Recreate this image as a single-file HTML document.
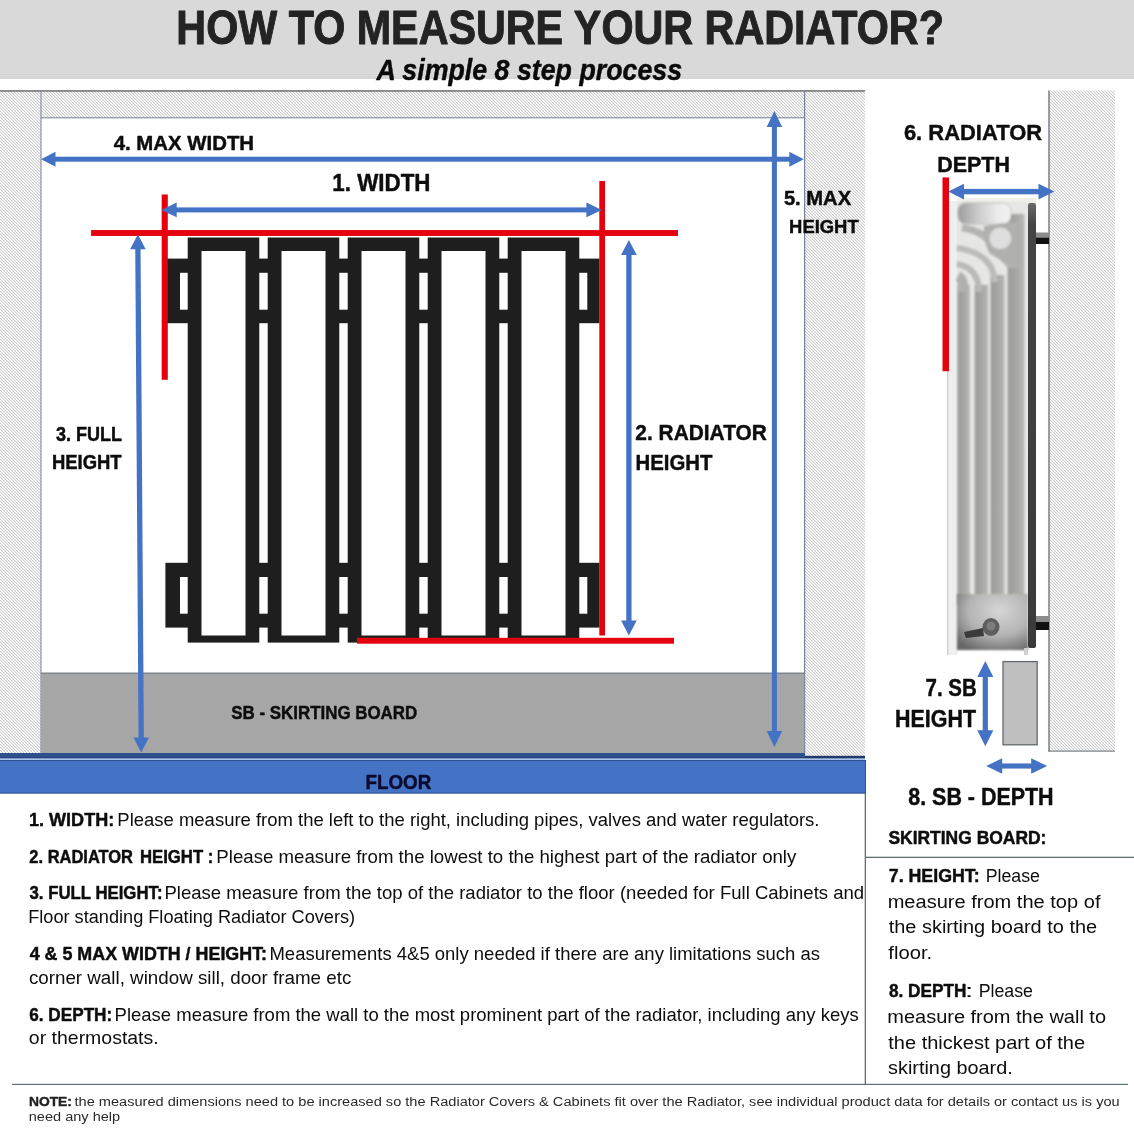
<!DOCTYPE html>
<html><head><meta charset="utf-8"><title>How to measure your radiator</title>
<style>
html,body{margin:0;padding:0;background:#fff;overflow:hidden;}
svg{display:block;will-change:transform;}
text{font-family:"Liberation Sans", sans-serif;}
</style></head>
<body>
<svg width="1134" height="1134" viewBox="0 0 1134 1134">
<defs>
<pattern id="hatch" x="0" y="0" width="3" height="3" patternUnits="userSpaceOnUse">
  <rect width="3" height="3" fill="#fbfbfb"/>
  <rect x="0" y="0" width="1" height="1" fill="#cecece"/><rect x="1" y="1" width="1" height="1" fill="#cecece"/><rect x="2" y="2" width="1" height="1" fill="#cecece"/>
  <rect x="1" y="0" width="1" height="1" fill="#ececec"/><rect x="2" y="1" width="1" height="1" fill="#ececec"/><rect x="0" y="2" width="1" height="1" fill="#ececec"/>
</pattern>
<linearGradient id="fin" x1="0" x2="1" y1="0" y2="0">
  <stop offset="0" stop-color="#9a9a98"/>
  <stop offset="0.5" stop-color="#a6a6a2"/>
  <stop offset="1" stop-color="#b8b8b4"/>
</linearGradient>
<linearGradient id="cap" x1="0" x2="1" y1="0" y2="0">
  <stop offset="0" stop-color="#9c9c9c"/>
  <stop offset="0.4" stop-color="#cdcdcd"/>
  <stop offset="0.75" stop-color="#ececec"/>
  <stop offset="1" stop-color="#f2f2f2"/>
</linearGradient>
<linearGradient id="dark" x1="0" x2="0" y1="0" y2="1">
  <stop offset="0" stop-color="#6a6a6a"/>
  <stop offset="0.05" stop-color="#444"/>
  <stop offset="1" stop-color="#3a3a3a"/>
</linearGradient>
<radialGradient id="bot" cx="0.6" cy="0.3" r="0.8">
  <stop offset="0" stop-color="#d6d6d6"/>
  <stop offset="0.55" stop-color="#b4b4b4"/>
  <stop offset="1" stop-color="#686868"/>
</radialGradient>
<filter id="soft" x="-5%" y="-5%" width="110%" height="110%"><feGaussianBlur stdDeviation="0.9"/></filter>
</defs>

<rect width="1134" height="1134" fill="#fff"/>
<rect x="0" y="0" width="1134" height="79" fill="#d9d9d9"/>
<rect x="0" y="73" width="1134" height="1" fill="#dedede"/>
<rect x="0" y="74" width="1134" height="1" fill="#d2d2d2"/>
<rect x="0" y="75" width="1134" height="1" fill="#dedede"/>
<rect x="0" y="76" width="1134" height="3" fill="#d6d6d6"/>
<text x="176.34" y="44.10" font-size="47.38" font-weight="bold" font-style="normal" fill="#232323" textLength="767.54" lengthAdjust="spacingAndGlyphs" stroke="#232323" stroke-width="1.0" stroke-linejoin="round">HOW TO MEASURE YOUR RADIATOR?</text>
<text x="376.57" y="79.90" font-size="29.51" font-weight="bold" font-style="italic" fill="#0a0a0a" textLength="305.52" lengthAdjust="spacingAndGlyphs" stroke="#0a0a0a" stroke-width="0.45" stroke-linejoin="round">A simple 8 step process</text>
<rect x="0" y="91" width="41" height="665" fill="url(#hatch)"/>
<rect x="41" y="91" width="764" height="27" fill="url(#hatch)"/>
<rect x="805" y="91" width="60" height="665" fill="url(#hatch)"/>
<rect x="0" y="90.4" width="865" height="1.1" fill="#404040"/>
<rect x="40.5" y="91" width="1" height="662" fill="#76809a" />
<rect x="41" y="117.3" width="764" height="1" fill="#76809a" />
<rect x="804" y="91" width="1.2" height="662" fill="#76809a" />
<rect x="41" y="673" width="763.2" height="80" fill="#a6a6a6"/>
<rect x="41" y="672.5" width="763.2" height="1.5" fill="#80858a"/>
<rect x="0" y="753" width="805" height="5.5" fill="#2f4f8f"/>
<rect x="0" y="757.5" width="865" height="1" fill="#1f3a6a"/>
<rect x="805" y="755.8" width="60" height="2.7" fill="#1f3a6a"/>
<rect x="0" y="758.5" width="865" height="1.5" fill="#a8c4f0"/>
<rect x="0" y="760" width="866" height="33.5" fill="#4472c4"/>
<rect x="0" y="760" width="866" height="1" fill="#2f528f"/>
<rect x="0" y="792.5" width="866" height="1" fill="#2f528f"/>
<rect x="865" y="760" width="1" height="33.5" fill="#2f528f"/>
<text x="365.46" y="788.80" font-size="21.08" font-weight="bold" font-style="normal" fill="#0b0b2e" textLength="65.90" lengthAdjust="spacingAndGlyphs" stroke="#0b0b2e" stroke-width="0.45" stroke-linejoin="round">FLOOR</text>
<rect x="165.4" y="258.6" width="434.1" height="64.6" fill="#1e1e1e"/>
<rect x="165.4" y="562.8" width="434.1" height="64.8" fill="#1e1e1e"/>
<rect x="187.7" y="237.5" width="71.6" height="405.1" fill="#1e1e1e"/>
<rect x="201.5" y="251" width="44.0" height="384.5" fill="#fff"/>
<rect x="267.7" y="237.5" width="71.6" height="405.1" fill="#1e1e1e"/>
<rect x="281.5" y="251" width="44.0" height="384.5" fill="#fff"/>
<rect x="347.7" y="237.5" width="71.6" height="405.1" fill="#1e1e1e"/>
<rect x="361.5" y="251" width="44.0" height="384.5" fill="#fff"/>
<rect x="427.7" y="237.5" width="71.6" height="405.1" fill="#1e1e1e"/>
<rect x="441.5" y="251" width="44.0" height="384.5" fill="#fff"/>
<rect x="507.7" y="237.5" width="71.6" height="405.1" fill="#1e1e1e"/>
<rect x="521.5" y="251" width="44.0" height="384.5" fill="#fff"/>
<rect x="180.0" y="272.8" width="7.7" height="36.9" fill="#fff"/>
<rect x="180.0" y="577" width="7.7" height="36.7" fill="#fff"/>
<rect x="259.3" y="272.8" width="8.4" height="36.9" fill="#fff"/>
<rect x="259.3" y="577" width="8.4" height="36.7" fill="#fff"/>
<rect x="339.3" y="272.8" width="8.4" height="36.9" fill="#fff"/>
<rect x="339.3" y="577" width="8.4" height="36.7" fill="#fff"/>
<rect x="419.3" y="272.8" width="8.4" height="36.9" fill="#fff"/>
<rect x="419.3" y="577" width="8.4" height="36.7" fill="#fff"/>
<rect x="499.3" y="272.8" width="8.4" height="36.9" fill="#fff"/>
<rect x="499.3" y="577" width="8.4" height="36.7" fill="#fff"/>
<rect x="579.3" y="272.8" width="8.0" height="36.9" fill="#fff"/>
<rect x="579.3" y="577" width="8.0" height="36.7" fill="#fff"/>
<rect x="91.1" y="230.05" width="586.9" height="5.9" fill="#e4020e"/>
<rect x="161.7" y="194.5" width="6.1" height="185.3" fill="#e4020e"/>
<rect x="599.3" y="181" width="5.7" height="454.5" fill="#e4020e"/>
<rect x="357" y="637.8" width="317" height="5.9" fill="#e4020e"/>
<rect x="54.50" y="156.70" width="735.80" height="5.00" fill="#4472c4"/>
<polygon points="41.00,159.20 55.50,151.70 55.50,166.70" fill="#4472c4"/>
<polygon points="803.80,159.20 789.30,151.70 789.30,166.70" fill="#4472c4"/>
<rect x="175.70" y="207.40" width="411.70" height="5.00" fill="#4472c4"/>
<polygon points="161.30,209.90 176.70,202.50 176.70,217.30" fill="#4472c4"/>
<polygon points="601.80,209.90 586.40,202.50 586.40,217.30" fill="#4472c4"/>
<polygon points="135.25,248.20 140.55,248.20 143.85,738.50 138.55,738.50" fill="#4472c4"/>
<polygon points="137.90,234.20 130.15,249.20 145.65,249.20" fill="#4472c4"/>
<polygon points="141.20,752.50 133.45,737.50 148.95,737.50" fill="#4472c4"/>
<polygon points="626.25,253.90 631.55,253.90 631.55,621.50 626.25,621.50" fill="#4472c4"/>
<polygon points="628.90,239.90 621.05,254.90 636.75,254.90" fill="#4472c4"/>
<polygon points="628.90,635.50 621.05,620.50 636.75,620.50" fill="#4472c4"/>
<polygon points="771.90,126.00 776.90,126.00 776.90,732.00 771.90,732.00" fill="#4472c4"/>
<polygon points="774.40,111.00 766.65,127.00 782.15,127.00" fill="#4472c4"/>
<polygon points="774.40,747.00 766.65,731.00 782.15,731.00" fill="#4472c4"/>
<text x="113.72" y="150.20" font-size="20.35" font-weight="bold" font-style="normal" fill="#0d0d0d" textLength="140.33" lengthAdjust="spacingAndGlyphs" stroke="#0d0d0d" stroke-width="0.45" stroke-linejoin="round">4. MAX WIDTH</text>
<text x="332.32" y="190.50" font-size="23.26" font-weight="bold" font-style="normal" fill="#0d0d0d" textLength="98.17" lengthAdjust="spacingAndGlyphs" stroke="#0d0d0d" stroke-width="0.45" stroke-linejoin="round">1. WIDTH</text>
<text x="783.90" y="204.90" font-size="19.62" font-weight="bold" font-style="normal" fill="#0d0d0d" textLength="67.25" lengthAdjust="spacingAndGlyphs" stroke="#0d0d0d" stroke-width="0.45" stroke-linejoin="round">5. MAX</text>
<text x="789.09" y="232.80" font-size="19.19" font-weight="bold" font-style="normal" fill="#0d0d0d" textLength="69.58" lengthAdjust="spacingAndGlyphs" stroke="#0d0d0d" stroke-width="0.45" stroke-linejoin="round">HEIGHT</text>
<text x="55.91" y="440.70" font-size="20.06" font-weight="bold" font-style="normal" fill="#0d0d0d" textLength="66.12" lengthAdjust="spacingAndGlyphs" stroke="#0d0d0d" stroke-width="0.45" stroke-linejoin="round">3. FULL</text>
<text x="51.89" y="468.70" font-size="19.91" font-weight="bold" font-style="normal" fill="#0d0d0d" textLength="69.78" lengthAdjust="spacingAndGlyphs" stroke="#0d0d0d" stroke-width="0.45" stroke-linejoin="round">HEIGHT</text>
<text x="635.30" y="440.30" font-size="22.53" font-weight="bold" font-style="normal" fill="#0d0d0d" textLength="131.60" lengthAdjust="spacingAndGlyphs" stroke="#0d0d0d" stroke-width="0.45" stroke-linejoin="round">2. RADIATOR</text>
<text x="635.46" y="470.00" font-size="21.95" font-weight="bold" font-style="normal" fill="#0d0d0d" textLength="76.93" lengthAdjust="spacingAndGlyphs" stroke="#0d0d0d" stroke-width="0.45" stroke-linejoin="round">HEIGHT</text>
<text x="231.34" y="719.20" font-size="18.90" font-weight="bold" font-style="normal" fill="#0d0d0d" textLength="185.85" lengthAdjust="spacingAndGlyphs" stroke="#0d0d0d" stroke-width="0.45" stroke-linejoin="round">SB - SKIRTING BOARD</text>
<rect x="1049" y="90.5" width="66" height="661" fill="url(#hatch)"/>
<rect x="1048.4" y="90.5" width="1.2" height="661" fill="#5a6270"/>
<rect x="1048.4" y="750.6" width="66.6" height="1" fill="#6a7078"/>
<text x="903.92" y="140.30" font-size="22.82" font-weight="bold" font-style="normal" fill="#0d0d0d" textLength="138.20" lengthAdjust="spacingAndGlyphs" stroke="#0d0d0d" stroke-width="0.45" stroke-linejoin="round">6. RADIATOR</text>
<text x="937.19" y="171.50" font-size="22.97" font-weight="bold" font-style="normal" fill="#0d0d0d" textLength="72.73" lengthAdjust="spacingAndGlyphs" stroke="#0d0d0d" stroke-width="0.45" stroke-linejoin="round">DEPTH</text>
<g id="photo">
 <rect x="947" y="201" width="10.5" height="454" fill="#efefef"/>
 <rect x="947" y="201" width="1.2" height="454" fill="#cccccc"/>
 <rect x="957" y="198" width="79" height="5" fill="#efefe9"/>
 <rect x="957" y="202" width="71" height="448" fill="#e6e6e4"/>
 <g filter="url(#soft)">
  <!-- fin vertical parts -->
  <rect x="957.5" y="285" width="12.3" height="320" fill="url(#fin)"/>
  <rect x="974.8" y="285" width="13.2" height="320" fill="url(#fin)"/>
  <rect x="990.6" y="275" width="13.8" height="330" fill="url(#fin)"/>
  <rect x="1007.6" y="214" width="16.8" height="391" fill="url(#fin)"/>
  <!-- curved fin tops sweeping to the left edge -->
  <path d="M963,292 L963,284 Q962,278 958,276" stroke="#b0b0ae" stroke-width="10" fill="none"/>
  <path d="M979,292 Q979,268 957,264" stroke="#bababa" stroke-width="6" fill="none"/>
  <path d="M995,282 Q993,253 957,248" stroke="#bcbcba" stroke-width="6" fill="none"/>
  <path d="M992,246 Q985,231 962,228" stroke="#b4b4b2" stroke-width="7" fill="none"/>
  <!-- top cap -->
  <rect x="958" y="203" width="53" height="21" rx="8" fill="url(#cap)" stroke="#b8b8b8" stroke-width="0.8"/>
  <path d="M984,226 L1012,222 L1024,222 L1024,268 L1008,268 Q1000,258 990,254 Q983,242 984,226 Z" fill="#b0b0ae"/>
  <circle cx="1000.3" cy="238.3" r="10.8" fill="#dedede"/>
 </g>
 <!-- bottom section -->
 <rect x="957" y="594" width="71" height="56" fill="url(#bot)" filter="url(#soft)"/>
 <ellipse cx="991" cy="627" rx="8.5" ry="9" fill="#5e5e5e"/>
 <ellipse cx="991" cy="626" rx="4.5" ry="4.5" fill="#7c7c7c"/>
 <path d="M964,632 L983,628 L984,636 L966,638 Z" fill="#3a3a3a"/>
 <!-- right dark strip -->
 <rect x="1028" y="203" width="8" height="445" rx="2" fill="url(#dark)"/>
 <rect x="1024" y="648" width="4" height="7" fill="#d0d0d0"/>
 <!-- pipes -->
 <rect x="1036" y="232.5" width="13" height="5" fill="#8c8c8c"/>
 <rect x="1036" y="237.5" width="13" height="6.5" fill="#111"/>
 <rect x="1036" y="616" width="13" height="6" fill="#8c8c8c"/>
 <rect x="1036" y="622" width="13" height="8" fill="#111"/>
</g>

<rect x="942.5" y="177.4" width="6.5" height="193.8" fill="#e4020e"/>
<rect x="963.00" y="188.90" width="76.50" height="5.40" fill="#4472c4"/>
<polygon points="948.20,191.60 964.00,183.70 964.00,199.50" fill="#4472c4"/>
<polygon points="1054.30,191.60 1038.50,183.70 1038.50,199.50" fill="#4472c4"/>
<rect x="1003" y="661.6" width="34.2" height="83.2" fill="#bfbfbf" stroke="#656a70" stroke-width="1.3"/>
<polygon points="982.70,675.90 987.90,675.90 987.90,731.30 982.70,731.30" fill="#4472c4"/>
<polygon points="985.30,660.90 977.30,676.90 993.30,676.90" fill="#4472c4"/>
<polygon points="985.30,746.30 977.30,730.30 993.30,730.30" fill="#4472c4"/>
<rect x="1001.20" y="763.45" width="31.00" height="5.10" fill="#4472c4"/>
<polygon points="986.20,766.00 1002.20,758.25 1002.20,773.75" fill="#4472c4"/>
<polygon points="1047.20,766.00 1031.20,758.25 1031.20,773.75" fill="#4472c4"/>
<text x="925.55" y="696.00" font-size="23.55" font-weight="bold" font-style="normal" fill="#0d0d0d" textLength="51.16" lengthAdjust="spacingAndGlyphs" stroke="#0d0d0d" stroke-width="0.45" stroke-linejoin="round">7. SB</text>
<text x="894.99" y="726.90" font-size="23.11" font-weight="bold" font-style="normal" fill="#0d0d0d" textLength="81.01" lengthAdjust="spacingAndGlyphs" stroke="#0d0d0d" stroke-width="0.45" stroke-linejoin="round">HEIGHT</text>
<text x="908.24" y="805.40" font-size="23.55" font-weight="bold" font-style="normal" fill="#0d0d0d" textLength="145.38" lengthAdjust="spacingAndGlyphs" stroke="#0d0d0d" stroke-width="0.45" stroke-linejoin="round">8. SB - DEPTH</text>
<rect x="864.7" y="793" width="1.3" height="292" fill="#5f6f72"/>
<rect x="865" y="856.7" width="269" height="1.3" fill="#5f6f72"/>
<rect x="12" y="1083.8" width="1116" height="1.2" fill="#5f6f72"/>
<text x="28.99" y="825.60" font-size="17.88" font-weight="bold" font-style="normal" fill="#0d0d0d" textLength="85.23" lengthAdjust="spacingAndGlyphs" stroke="#0d0d0d" stroke-width="0.45" stroke-linejoin="round">1. WIDTH:</text>
<text x="117.38" y="825.60" font-size="17.88" font-weight="normal" font-style="normal" fill="#0d0d0d" textLength="702.10" lengthAdjust="spacingAndGlyphs">Please measure from the left to the right, including pipes, valves and water regulators.</text>
<text x="29.35" y="862.80" font-size="17.88" font-weight="bold" font-style="normal" fill="#0d0d0d" textLength="103.66" lengthAdjust="spacingAndGlyphs" stroke="#0d0d0d" stroke-width="0.45" stroke-linejoin="round">2. RADIATOR</text>
<text x="139.90" y="862.80" font-size="17.88" font-weight="bold" font-style="normal" fill="#0d0d0d" textLength="73.48" lengthAdjust="spacingAndGlyphs" stroke="#0d0d0d" stroke-width="0.45" stroke-linejoin="round">HEIGHT :</text>
<text x="216.37" y="862.80" font-size="17.88" font-weight="normal" font-style="normal" fill="#0d0d0d" textLength="579.97" lengthAdjust="spacingAndGlyphs">Please measure from the lowest to the highest part of the radiator only</text>
<text x="29.54" y="898.80" font-size="17.88" font-weight="bold" font-style="normal" fill="#0d0d0d" textLength="132.95" lengthAdjust="spacingAndGlyphs" stroke="#0d0d0d" stroke-width="0.45" stroke-linejoin="round">3. FULL HEIGHT:</text>
<text x="164.48" y="898.80" font-size="17.88" font-weight="normal" font-style="normal" fill="#0d0d0d" textLength="699.72" lengthAdjust="spacingAndGlyphs">Please measure from the top of the radiator to the floor (needed for Full Cabinets and</text>
<text x="28.21" y="922.80" font-size="17.88" font-weight="normal" font-style="normal" fill="#0d0d0d" textLength="326.92" lengthAdjust="spacingAndGlyphs">Floor standing Floating Radiator Covers)</text>
<text x="29.65" y="959.80" font-size="17.88" font-weight="bold" font-style="normal" fill="#0d0d0d" textLength="237.44" lengthAdjust="spacingAndGlyphs" stroke="#0d0d0d" stroke-width="0.45" stroke-linejoin="round">4 &amp; 5 MAX WIDTH / HEIGHT:</text>
<text x="269.48" y="959.80" font-size="17.88" font-weight="normal" font-style="normal" fill="#0d0d0d" textLength="550.49" lengthAdjust="spacingAndGlyphs">Measurements 4&amp;5 only needed if there are any limitations such as</text>
<text x="28.90" y="983.70" font-size="17.88" font-weight="normal" font-style="normal" fill="#0d0d0d" textLength="322.39" lengthAdjust="spacingAndGlyphs">corner wall, window sill, door frame etc</text>
<text x="29.30" y="1020.80" font-size="17.88" font-weight="bold" font-style="normal" fill="#0d0d0d" textLength="82.93" lengthAdjust="spacingAndGlyphs" stroke="#0d0d0d" stroke-width="0.45" stroke-linejoin="round">6. DEPTH:</text>
<text x="114.58" y="1020.80" font-size="17.88" font-weight="normal" font-style="normal" fill="#0d0d0d" textLength="744.09" lengthAdjust="spacingAndGlyphs">Please measure from the wall to the most prominent part of the radiator, including any keys</text>
<text x="28.88" y="1044.40" font-size="17.88" font-weight="normal" font-style="normal" fill="#0d0d0d" textLength="129.80" lengthAdjust="spacingAndGlyphs">or thermostats.</text>
<text x="888.42" y="843.70" font-size="17.59" font-weight="bold" font-style="normal" fill="#0d0d0d" textLength="158.03" lengthAdjust="spacingAndGlyphs" stroke="#0d0d0d" stroke-width="0.45" stroke-linejoin="round">SKIRTING BOARD:</text>
<text x="888.76" y="881.70" font-size="18.02" font-weight="bold" font-style="normal" fill="#0d0d0d" textLength="90.93" lengthAdjust="spacingAndGlyphs" stroke="#0d0d0d" stroke-width="0.45" stroke-linejoin="round">7. HEIGHT:</text>
<text x="985.74" y="881.70" font-size="18.02" font-weight="normal" font-style="normal" fill="#0d0d0d" textLength="54.24" lengthAdjust="spacingAndGlyphs">Please</text>
<text x="887.67" y="907.90" font-size="18.02" font-weight="normal" font-style="normal" fill="#0d0d0d" textLength="212.80" lengthAdjust="spacingAndGlyphs">measure from the top of</text>
<text x="888.70" y="933.40" font-size="18.02" font-weight="normal" font-style="normal" fill="#0d0d0d" textLength="208.49" lengthAdjust="spacingAndGlyphs">the skirting board to the</text>
<text x="888.31" y="958.70" font-size="18.02" font-weight="normal" font-style="normal" fill="#0d0d0d" textLength="43.83" lengthAdjust="spacingAndGlyphs">floor.</text>
<text x="888.98" y="997.20" font-size="18.02" font-weight="bold" font-style="normal" fill="#0d0d0d" textLength="77.46" lengthAdjust="spacingAndGlyphs" stroke="#0d0d0d" stroke-width="0.45" stroke-linejoin="round">8. DEPTH</text>
<text x="964.84" y="997.20" font-size="18.02" font-weight="normal" font-style="normal" fill="#0d0d0d" textLength="8.73" lengthAdjust="spacingAndGlyphs">:</text>
<text x="978.64" y="997.20" font-size="18.02" font-weight="normal" font-style="normal" fill="#0d0d0d" textLength="54.35" lengthAdjust="spacingAndGlyphs">Please</text>
<text x="887.27" y="1022.70" font-size="18.02" font-weight="normal" font-style="normal" fill="#0d0d0d" textLength="218.77" lengthAdjust="spacingAndGlyphs">measure from the wall to</text>
<text x="888.30" y="1048.70" font-size="18.02" font-weight="normal" font-style="normal" fill="#0d0d0d" textLength="196.79" lengthAdjust="spacingAndGlyphs">the thickest part of the</text>
<text x="888.05" y="1073.90" font-size="18.02" font-weight="normal" font-style="normal" fill="#0d0d0d" textLength="124.67" lengthAdjust="spacingAndGlyphs">skirting board.</text>
<text x="29.00" y="1105.70" font-size="13.52" font-weight="bold" font-style="normal" fill="#222222" textLength="42.90" lengthAdjust="spacingAndGlyphs" stroke="#222222" stroke-width="0.45" stroke-linejoin="round">NOTE:</text>
<text x="74.48" y="1105.70" font-size="13.52" font-weight="normal" font-style="normal" fill="#2a2a2a" textLength="1045.19" lengthAdjust="spacingAndGlyphs">the measured dimensions need to be increased so the Radiator Covers &amp; Cabinets fit over the Radiator, see individual product data for details or contact us is you</text>
<text x="28.73" y="1121.40" font-size="13.52" font-weight="normal" font-style="normal" fill="#2a2a2a" textLength="91.48" lengthAdjust="spacingAndGlyphs">need any help</text>
</svg>
</body></html>
